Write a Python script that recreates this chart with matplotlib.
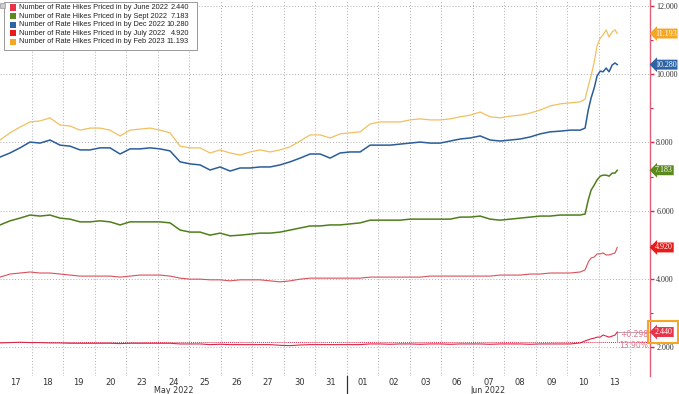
import matplotlib
matplotlib.use('Agg')
import matplotlib.pyplot as plt
import matplotlib.transforms as mtransforms
from matplotlib.patches import Rectangle
from matplotlib.ticker import MultipleLocator, FixedLocator
import numpy as np

# trading days shown on the axis
day_labels = ['17', '18', '19', '20', '23', '24', '25', '26', '27', '30', '31',
              '01', '02', '03', '06', '07', '08', '09', '10', '13']
months = [('May 2022', 5.5), ('Jun 2022', 15.5)]
month_break = 11

# sample times in trading days since open of 17 May
t = np.r_[np.arange(59) * 0.3175,
          [18.57, 18.67, 18.76, 18.86, 18.95, 19.05, 19.14, 19.24, 19.33, 19.43, 19.52, 19.59]]

feb23 = [8.07, 8.28, 8.45, 8.60, 8.63, 8.72, 8.51, 8.48, 8.36, 8.42, 8.42, 8.36, 8.19, 8.36, 8.39,
         8.42, 8.36, 8.28, 7.89, 7.84, 7.84, 7.69, 7.78, 7.69, 7.63, 7.72, 7.78, 7.72, 7.78, 7.87,
         8.04, 8.22, 8.22, 8.13, 8.25, 8.28, 8.31, 8.54, 8.60, 8.60, 8.60, 8.66, 8.69, 8.66, 8.66,
         8.69, 8.75, 8.80, 8.89, 8.75, 8.72, 8.77, 8.80, 8.86, 8.95, 9.07, 9.13, 9.16, 9.19,
         9.27, 9.65, 9.95, 10.36, 10.83, 11.06, 11.15, 11.30, 11.09, 11.24, 11.30, 11.193]
dec22 = [7.57, 7.69, 7.84, 8.01, 7.98, 8.07, 7.92, 7.89, 7.78, 7.78, 7.84, 7.84, 7.66, 7.81, 7.81,
         7.84, 7.81, 7.75, 7.43, 7.37, 7.34, 7.19, 7.28, 7.16, 7.25, 7.25, 7.28, 7.28, 7.34, 7.43,
         7.54, 7.66, 7.66, 7.54, 7.69, 7.72, 7.72, 7.92, 7.92, 7.92, 7.95, 7.98, 8.01, 7.98, 7.98,
         8.04, 8.10, 8.13, 8.19, 8.07, 8.04, 8.07, 8.10, 8.16, 8.25, 8.31, 8.33, 8.36, 8.36,
         8.42, 8.95, 9.30, 9.60, 9.95, 10.09, 10.07, 10.18, 10.07, 10.27, 10.33, 10.280]
sep22 = [5.58, 5.70, 5.78, 5.87, 5.84, 5.87, 5.78, 5.75, 5.67, 5.67, 5.70, 5.67, 5.58, 5.67, 5.67,
         5.67, 5.67, 5.64, 5.43, 5.37, 5.37, 5.28, 5.34, 5.26, 5.28, 5.31, 5.34, 5.34, 5.37, 5.43,
         5.49, 5.55, 5.55, 5.58, 5.58, 5.61, 5.64, 5.72, 5.72, 5.72, 5.72, 5.75, 5.75, 5.75, 5.75,
         5.75, 5.81, 5.81, 5.84, 5.75, 5.72, 5.75, 5.78, 5.81, 5.84, 5.84, 5.87, 5.87, 5.87,
         5.90, 6.31, 6.60, 6.75, 6.90, 7.01, 7.04, 7.04, 7.01, 7.10, 7.10, 7.183]
jul22 = [4.05, 4.14, 4.17, 4.20, 4.17, 4.17, 4.14, 4.11, 4.08, 4.08, 4.08, 4.08, 4.05, 4.08, 4.11,
         4.11, 4.11, 4.08, 4.02, 3.99, 3.99, 3.97, 3.97, 3.94, 3.97, 3.97, 3.97, 3.94, 3.91, 3.94,
         3.99, 4.02, 4.02, 4.02, 4.02, 4.02, 4.02, 4.05, 4.05, 4.05, 4.05, 4.05, 4.05, 4.08, 4.08,
         4.08, 4.08, 4.08, 4.08, 4.08, 4.11, 4.11, 4.11, 4.14, 4.14, 4.17, 4.17, 4.17, 4.20,
         4.26, 4.49, 4.61, 4.64, 4.73, 4.73, 4.76, 4.70, 4.70, 4.73, 4.76, 4.920]
jun22 = [2.12, 2.13, 2.14, 2.13, 2.13, 2.12, 2.12, 2.11, 2.11, 2.11, 2.11, 2.11, 2.10, 2.11, 2.11,
         2.11, 2.11, 2.11, 2.09, 2.09, 2.09, 2.07, 2.08, 2.07, 2.07, 2.07, 2.07, 2.07, 2.05, 2.04,
         2.06, 2.07, 2.07, 2.07, 2.07, 2.07, 2.07, 2.09, 2.09, 2.08, 2.09, 2.09, 2.08, 2.09, 2.09,
         2.08, 2.09, 2.09, 2.09, 2.08, 2.09, 2.09, 2.09, 2.08, 2.09, 2.09, 2.09, 2.09, 2.12,
         2.18, 2.21, 2.24, 2.26, 2.29, 2.29, 2.35, 2.32, 2.29, 2.32, 2.35, 2.440]
jun_start = 2.142
jun_chg = '+0.298'
jun_pct = '13.90%'

series = [
    ('Number of Rate Hikes Priced in by June 2022', jun22, '#d8284a', '#e8344a', 0.8),
    ('Number of Rate Hikes Priced in by Sept 2022', sep22, '#4f7f1a', '#5a8a1e', 1.1),
    ('Number of Rate Hikes Priced in by Dec 2022', dec22, '#2a5d9a', '#2e64a4', 1.1),
    ('Number of Rate Hikes Priced in by July 2022', jul22, '#d9505a', '#e81a1a', 0.8),
    ('Number of Rate Hikes Priced in by Feb 2023', feb23, '#f0c060', '#f5a623', 0.9),
]

W, H = 679, 394
fig = plt.figure(figsize=(W / 100, H / 100), dpi=100)
ax = fig.add_axes([0, 18 / H, 650 / W, 376 / H])

def fx(px):
    return px / W

def fy(py):
    return 1 - py / H

# draw order: back to front like the original
for name, vals, lc, _, lw in [series[i] for i in (0, 3, 1, 4, 2)]:
    ax.plot(t, vals, color=lc, lw=lw, zorder=3)

ax.axhline(jun_start, color='#d8284a', lw=0.7, ls=(0, (1, 1)), zorder=2)

ax.set_xlim(0, 20.63)
ax.set_ylim(1.15, 12.176)

# y axis on the right
ax.yaxis.tick_right()
ax.yaxis.set_major_locator(MultipleLocator(2))
ax.yaxis.set_minor_locator(MultipleLocator(1))
ax.yaxis.set_major_formatter(matplotlib.ticker.FuncFormatter(lambda v, p: f'{v:.3f}'))
ax.tick_params(axis='y', which='major', colors='#d8284a', length=3, width=1, pad=1.5,
               labelcolor='#333333', labelsize=5.8)
ax.tick_params(axis='y', which='minor', colors='#d8284a', length=2, width=0.8)
for lab in ax.get_yticklabels():
    lab.set_family('Liberation Serif')

# x axis: labels in the middle of each day, grid at day boundaries
ax.xaxis.set_major_locator(FixedLocator(np.arange(len(day_labels)) + 0.5))
ax.set_xticklabels(day_labels)
ax.xaxis.set_minor_locator(FixedLocator(np.arange(1, 21)))
ax.tick_params(axis='x', which='major', length=0, pad=1.5, labelsize=6, labelcolor='#333333')
ax.tick_params(axis='x', which='minor', length=0)

ax.grid(axis='y', which='major', color='#b0b0b0', ls=(0, (1, 2)), lw=0.7)
ax.grid(axis='x', which='minor', color='#b0b0b0', ls=(0, (1, 2)), lw=0.7)

for s in ('left', 'top', 'bottom'):
    ax.spines[s].set_visible(False)
ax.spines['right'].set_color('#e06078')
ax.spines['right'].set_linewidth(1)

trans = mtransforms.blended_transform_factory(ax.transData, ax.transAxes)
for label, xc in months:
    ax.text(xc, -0.026, label, transform=trans, ha='center', va='top', fontsize=5.8, color='#333333')
ax.plot([month_break, month_break], [0, -0.06], transform=trans, color='#333333', lw=0.9, clip_on=False)

# legend box
fig.patches.append(Rectangle((fx(4), fy(50)), fx(193), 48 / H, transform=fig.transFigure,
                             fc='white', ec='#999999', lw=0.7, zorder=5))
fig.patches.append(Rectangle((fx(0), fy(8)), fx(5), 5 / H, transform=fig.transFigure,
                             fc='#cccccc', ec='#999999', lw=0.5, zorder=6))
for i, (name, vals, lc, mc, lw) in enumerate(series):
    yc = 7.5 + 8.6 * i
    fig.patches.append(Rectangle((fx(10), fy(yc + 3)), fx(6), 6 / H, transform=fig.transFigure,
                                 fc=mc, ec='none', zorder=6))
    fig.text(fx(19), fy(yc), name, ha='left', va='center', fontsize=5.3, color='#222222',
             family='Liberation Sans', zorder=7)
    fig.text(fx(189), fy(yc), f'{vals[-1]:.3f}', ha='right', va='center', fontsize=5.3,
             color='#222222', family='Liberation Sans', zorder=7)

# value tags on the right
ytrans = mtransforms.blended_transform_factory(ax.transAxes, ax.transData)
for name, vals, lc, mc, lw in series:
    ax.annotate(f'{vals[-1]:.3f}', xy=(1, vals[-1]), xycoords=ytrans, xytext=(3.5, 0),
                textcoords='offset points', ha='left', va='center', fontsize=5.8, color='white',
                family='Liberation Serif',
                bbox=dict(boxstyle='larrow,pad=0.12', fc=mc, ec='none'), annotation_clip=False)

# highlight around the June tag
fig.patches.append(Rectangle((fx(648), fy(343)), fx(30), 22 / H, transform=fig.transFigure,
                             fc='none', ec='#f5a623', lw=1.5, zorder=8))

# change annotation for the June series
ax.plot([t[-1], t[-1]], [jun_start, jun22[-1]], color='#c0a0a8', lw=0.7)
ax.plot([t[-1], 20.63], [jun22[-1], jun22[-1]], color='#c0a0a8', lw=0.7)
ax.text(t[-1] + 0.1, jun22[-1] - 0.08, jun_chg, ha='left', va='center', fontsize=5.5, color='#e07890')
ax.text(t[-1] + 0.05, jun_start - 0.1, jun_pct, ha='left', va='center', fontsize=5.5, color='#e07890')

fig.savefig('out.png', dpi=100)
